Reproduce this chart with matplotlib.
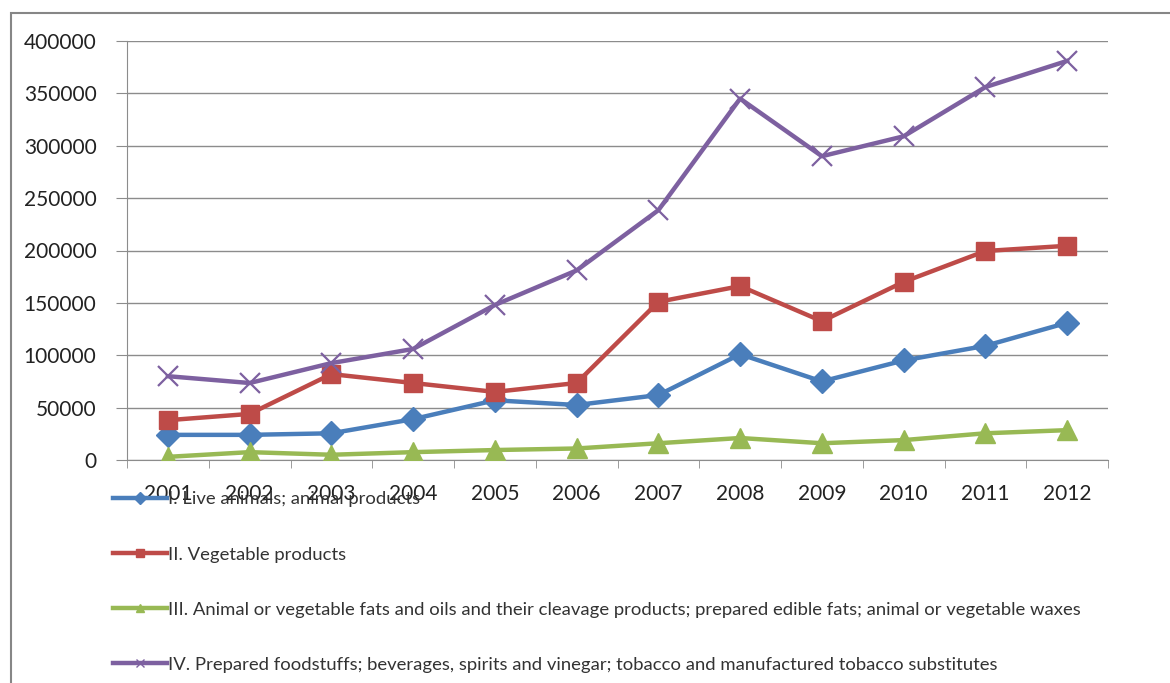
import matplotlib.pyplot as plt
from matplotlib.lines import Line2D
from matplotlib.patches import Rectangle

years = ['2001', '2002', '2003', '2004', '2005', '2006', '2007', '2008', '2009', '2010', '2011', '2012']
live_animals = [24000, 24000, 25500, 39000, 57000, 52500, 62000, 101000, 75000, 95000, 109000, 131000]
vegetable = [38000, 44000, 82000, 73500, 65000, 73500, 151000, 166000, 132500, 170000, 199500, 204500]
fats_oils = [3000, 7500, 5000, 7500, 9500, 11000, 16000, 21000, 16000, 19000, 25500, 28500]
foodstuffs = [80000, 73500, 92500, 106000, 148000, 181000, 238500, 345000, 290000, 309000, 356000, 381000]

labels = [
    'I. Live animals; animal products',
    'II. Vegetable products',
    'III. Animal or vegetable fats and oils and their cleavage products; prepared edible fats; animal or vegetable waxes',
    'IV. Prepared foodstuffs; beverages, spirits and vinegar; tobacco and manufactured tobacco substitutes',
]

plt.rcParams['font.family'] = ['Lato', 'DejaVu Sans']

W, H = 1170, 683
fig = plt.figure(figsize=(W / 100, H / 100), dpi=100)
fig.patches.append(Rectangle((11 / W, -0.1), 1.2, (H - 13) / H + 0.1, transform=fig.transFigure,
                             fill=False, edgecolor='#868686', linewidth=1.5))

ax = fig.add_axes([127 / W, (H - 460) / H, (1108 - 127) / W, (460 - 41) / H])
x = range(len(years))

series = [
    (live_animals, '#4A7EBB', 'D', 12),
    (vegetable, '#BE4B48', 's', 13),
    (fats_oils, '#98B954', '^', 14),
    (foodstuffs, '#7D60A0', 'x', 14),
]
handles = []
for vals, color, marker, ms in series:
    ax.plot(x, vals, color=color, linewidth=3.2, marker=marker, markersize=ms,
            markeredgewidth=1.6 if marker == 'x' else 1, markeredgecolor=color, zorder=3)
    handles.append(Line2D([], [], color=color, linewidth=3.2, marker=marker, markersize=6,
                          markeredgecolor=color))

ax.set_xlim(-0.5, len(years) - 0.5)
ax.set_ylim(0, 400000)
ax.set_yticks(range(0, 400001, 50000))
ax.set_xticks(x)
ax.set_xticklabels(years)
ax.set_xticks([i + 0.5 for i in range(-1, len(years))], minor=True)
ax.grid(axis='y', color='#8c8c8c', linewidth=1)
ax.set_axisbelow(True)
for side in ['top', 'right']:
    ax.spines[side].set_visible(False)
for side in ['left', 'bottom']:
    ax.spines[side].set_color('#8c8c8c')
ax.tick_params(axis='x', which='major', length=0, pad=17, labelsize=15, colors='#222222')
ax.tick_params(axis='x', which='minor', length=6, color='#8c8c8c')
ax.tick_params(axis='y', length=8, pad=14, labelsize=15, color='#8c8c8c', labelcolor='#222222')

fig.legend(handles, labels, loc='upper left', bbox_to_anchor=(106 / W, (H - 484) / H),
           frameon=False, fontsize=13.3, handlelength=2.9, handletextpad=0.05,
           labelspacing=2.12, labelcolor='#333333', borderaxespad=0)

fig.savefig('out.png', dpi=100)
